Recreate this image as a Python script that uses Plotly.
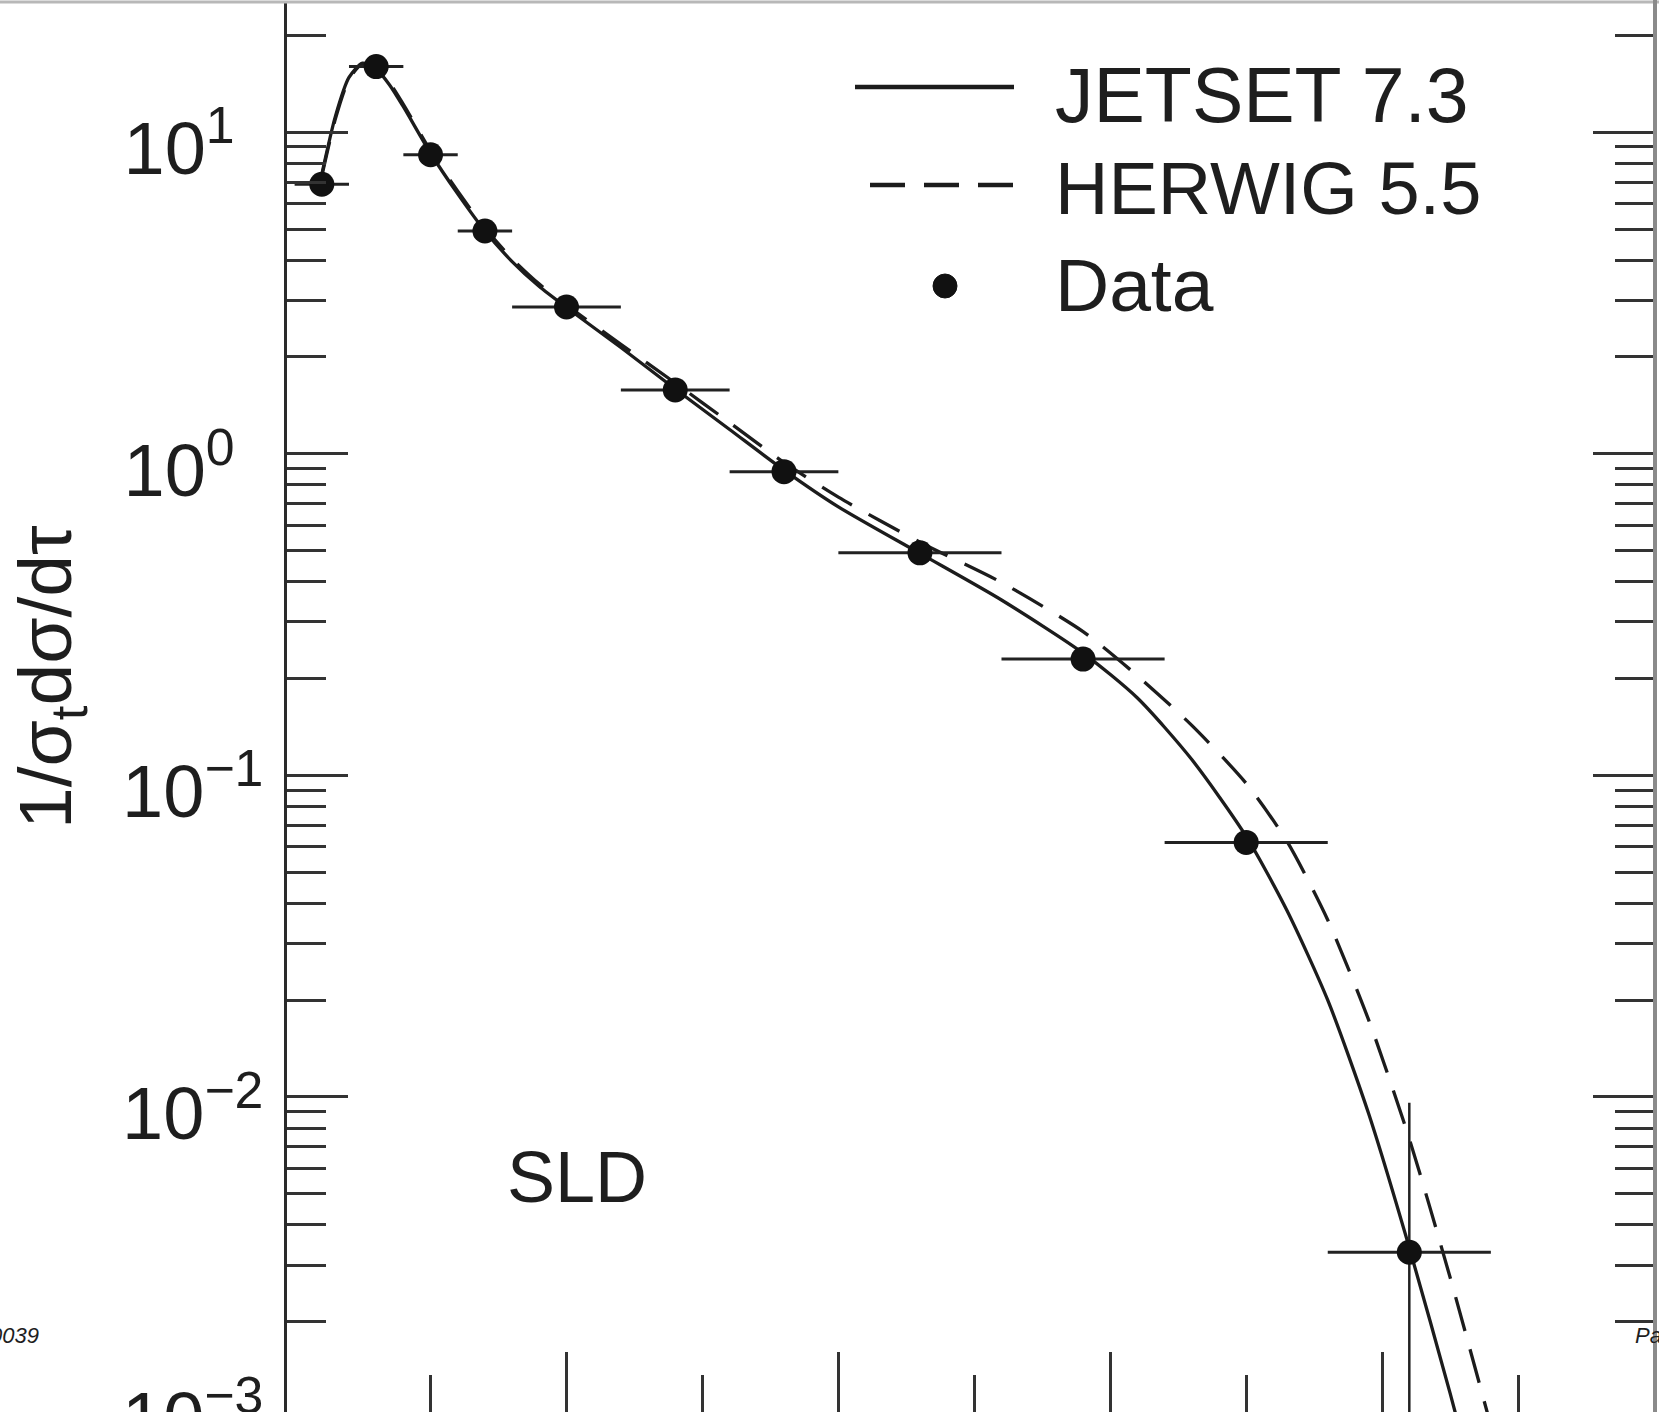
import plotly.graph_objects as go

# ---------------- data ----------------
# measured SLD thrust distribution (tau = 1 - T)
tau_data = [0.01, 0.03, 0.05, 0.07, 0.10, 0.14, 0.18, 0.23, 0.29, 0.35, 0.41]
data_y = [6.89, 16.0, 8.51, 4.93, 2.86, 1.58, 0.88, 0.492, 0.230, 0.0619, 0.00329]
bin_half = [0.01, 0.01, 0.01, 0.01, 0.02, 0.02, 0.02, 0.03, 0.03, 0.03, 0.03]
err_up = [0.25, 0.45, 0.25, 0.12, 0.06, 0.035, 0.02, 0.012, 0.007, 0.003, 0.0063]
err_dn = [0.25, 0.45, 0.25, 0.12, 0.06, 0.035, 0.02, 0.012, 0.007, 0.003, 0.0031]

# Monte Carlo predictions
tau_curve = [0.010, 0.015, 0.020, 0.025, 0.030, 0.035, 0.040, 0.050, 0.060, 0.070,
             0.080, 0.090, 0.100, 0.120, 0.140, 0.160, 0.180, 0.200, 0.230, 0.260,
             0.290, 0.310, 0.330, 0.350, 0.365, 0.380, 0.395, 0.410, 0.425, 0.440]
jetset = [7.4, 11.2, 14.8, 16.4, 15.7, 14.0, 12.0, 8.6, 6.43, 4.93,
          3.96, 3.31, 2.85, 2.14, 1.59, 1.19, 0.89, 0.684, 0.49, 0.351,
          0.240, 0.174, 0.112, 0.0646, 0.0380, 0.0200, 0.0089, 0.0034, 0.0012, 0.0004]
herwig = [7.3, 11.0, 14.6, 16.3, 15.8, 14.2, 12.2, 8.75, 6.55, 5.03,
          4.04, 3.37, 2.9, 2.19, 1.66, 1.25, 0.94, 0.733, 0.531, 0.398,
          0.280, 0.204, 0.143, 0.0944, 0.0624, 0.0355, 0.0174, 0.00741, 0.00275, 0.00095]

# axis ticks
y_major = [0.01, 0.1, 1, 10]
NB = "\u00a0"
y_major_text = ["10<sup>\u22122</sup>", "10<sup>\u22121</sup>",
                "10<sup>0" + NB + NB + "</sup>", "10<sup>1" + NB + NB + "</sup>"]
y_minor = [m * d for d in (0.001, 0.01, 0.1, 1) for m in range(2, 10)] + [20]
x_major = [0.1, 0.2, 0.3, 0.4]
x_minor = [0.05, 0.15, 0.25, 0.35, 0.45]

# ---------------- layout geometry ----------------
W, H = 1659, 1412
L, R, T, B = 287, 1654, 3, 1412


def fx(px):
    return (px - L) / (R - L)


def fy(py):
    return (B - py) / (B - T)


INK = "#1c1c1c"
FONT = "Liberation Sans, Arial, Helvetica, sans-serif"
DASH = "35px,19px"

fig = go.Figure()
fig.add_trace(go.Scatter(
    x=tau_curve, y=jetset, mode="lines", name="JETSET 7.3",
    line=dict(color=INK, width=3.3, shape="spline", smoothing=0.7)))
fig.add_trace(go.Scatter(
    x=tau_curve, y=herwig, mode="lines", name="HERWIG 5.5",
    line=dict(color=INK, width=3.3, dash=DASH, shape="spline", smoothing=0.7)))
fig.add_trace(go.Scatter(
    x=tau_data, y=data_y, mode="markers", name="Data",
    marker=dict(color="#111111", size=25),
    error_x=dict(type="data", array=bin_half, color="#222222", thickness=3, width=0),
    error_y=dict(type="data", symmetric=False, array=err_up, arrayminus=err_dn,
                 color="#222222", thickness=2.5, width=0)))

tickc = "#333333"
fig.update_layout(
    template="none",
    width=W, height=H,
    margin=dict(l=L, r=W - R, t=T, b=H - B, pad=0),
    paper_bgcolor="white", plot_bgcolor="white",
    showlegend=False,
    font=dict(family=FONT, color="#1e1e1e"),
    xaxis=dict(range=[-0.0028, 0.5], showgrid=False, zeroline=False, showline=False,
               automargin=False, ticks="inside", tickmode="array", tickvals=x_major,
               ticklen=60, tickwidth=2.5, tickcolor=tickc, showticklabels=False,
               minor=dict(tickmode="array", tickvals=x_minor, ticks="inside", ticklen=37,
                          tickwidth=2.5, tickcolor=tickc, showgrid=False)),
    yaxis=dict(type="log", range=[-2.9795, 1.4017], showgrid=False, zeroline=False,
               automargin=False, showline=True, linecolor="#2a2a2a", linewidth=2.5,
               mirror="ticks", ticks="inside", tickmode="array", tickvals=y_major,
               ticktext=y_major_text, ticklen=61, tickwidth=2.5, tickcolor=tickc,
               tickfont=dict(size=74, family=FONT, color="#1e1e1e"),
               ticklabelstandoff=6, ticklabelshift=16,
               minor=dict(tickmode="array", tickvals=y_minor, ticks="inside", ticklen=39,
                          tickwidth=2.5, tickcolor=tickc, showgrid=False)),
)

ann = []


def add_text(text, px, py, size, xanchor="left", angle=0, style="normal"):
    ann.append(dict(text=text, x=fx(px), y=fy(py), xref="paper", yref="paper",
                    xanchor=xanchor, yanchor="middle", showarrow=False, textangle=angle,
                    font=dict(family=FONT, size=size, color="#1e1e1e", style=style)))


add_text("1/\u03c3<sub>t</sub>d\u03c3/d\u03c4", 50, 677, 75, xanchor="center", angle=-90)
add_text("10<sup>\u22123</sup>", 120, 1413, 74)
add_text("SLD", 505, 1177, 72)
add_text("JETSET 7.3", 1053, 95, 77)
add_text("HERWIG 5.5", 1053, 189, 74)
add_text("Data", 1053, 285, 75)
add_text("0039", 41, 1335, 22, xanchor="right", style="italic")
add_text("Pa", 1633, 1335, 22, style="italic")
fig.update_layout(annotations=ann)

shapes = [
    dict(type="line", xref="paper", yref="paper", x0=fx(855), x1=fx(1014), y0=fy(87), y1=fy(87),
         line=dict(color=INK, width=4.5)),
    dict(type="line", xref="paper", yref="paper", x0=fx(870), x1=fx(1016), y0=fy(185), y1=fy(185),
         line=dict(color=INK, width=4.5, dash=DASH)),
    dict(type="circle", xref="paper", yref="paper", x0=fx(933), x1=fx(957), y0=fy(274), y1=fy(298),
         fillcolor="#111111", line=dict(color="#111111", width=1)),
    dict(type="line", xref="paper", yref="paper", x0=fx(0), x1=fx(W), y0=fy(2), y1=fy(2),
         line=dict(color="#b8b8b8", width=3)),
    dict(type="line", xref="paper", yref="paper", x0=fx(1655), x1=fx(1655), y0=fy(0), y1=fy(H),
         line=dict(color="#8a8a8a", width=4)),
]
fig.update_layout(shapes=shapes)

fig.write_html("out.html", include_plotlyjs=True, config={"displayModeBar": False},
               post_script="document.body.style.margin='0';document.body.style.overflow='hidden';")
